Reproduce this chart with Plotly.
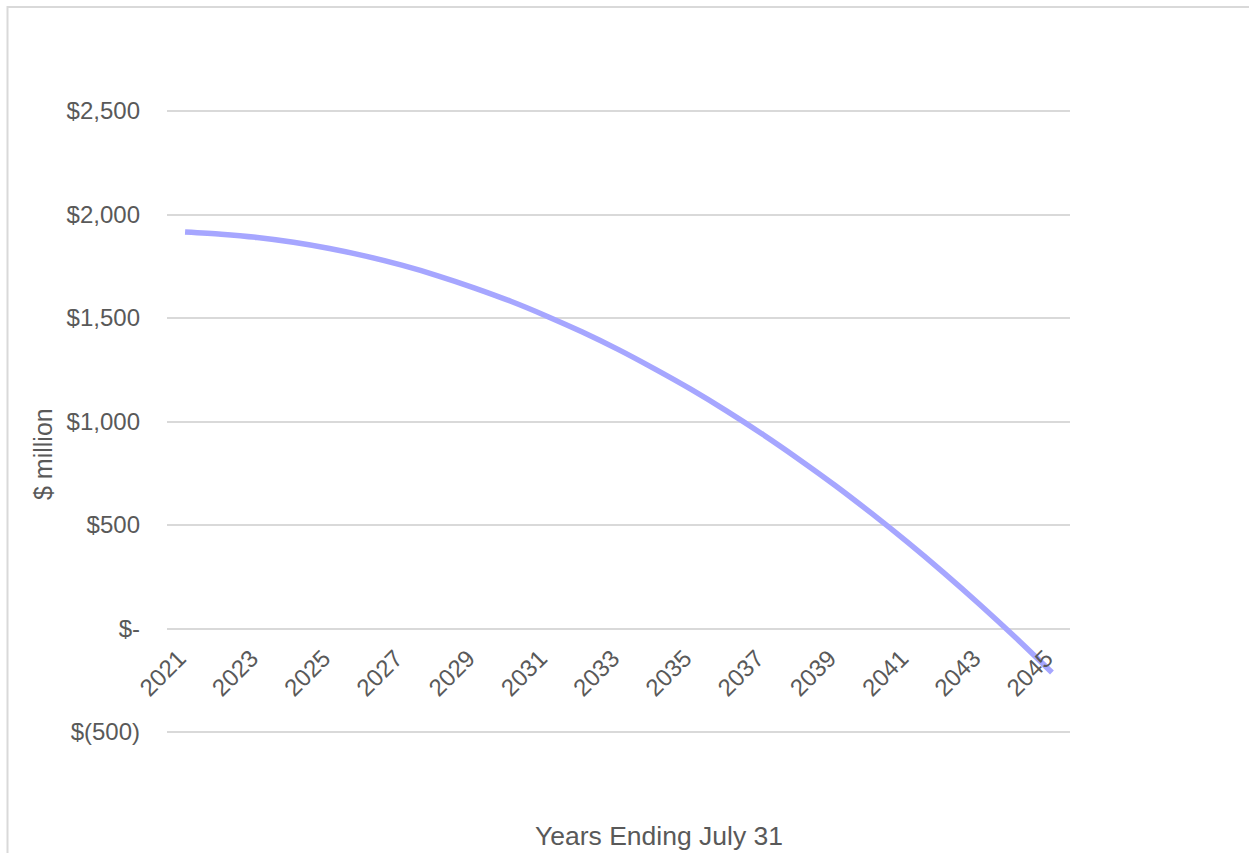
import plotly.graph_objects as go

# Projected balance by fiscal year ($ million)
years = [str(y) for y in range(2021, 2046)]
balance = [1916, 1905, 1889, 1866, 1836, 1799, 1755, 1704, 1646, 1582,
           1510, 1432, 1347, 1254, 1156, 1050, 937, 817, 691, 557,
           417, 270, 116, -45, -213]

x_tick_years = [str(y) for y in range(2021, 2046, 2)]
y_tick_vals = [-500, 0, 500, 1000, 1500, 2000, 2500]
y_tick_text = ["$(500)", "$-", "$500", "$1,000", "$1,500", "$2,000", "$2,500"]

W, H = 1249, 853
# plot area padded by a few px so the end gridlines are drawn
PAD = 3
L, R, T, B = 167, 179, 111 - PAD, 121 - PAD
pw, ph = W - L - R, H - T - B
units_per_px = 3000 / (621)
y_min, y_max = -500 - PAD * units_per_px, 2500 + PAD * units_per_px

text_color = "#595959"
grid_color = "#d9d9d9"
font_family = "Liberation Sans, Arial, sans-serif"


def px_to_paper_x(px):
    return (px - L) / pw


def px_to_paper_y(py):
    return (H - B - py) / ph


fig = go.Figure()
fig.add_trace(go.Scatter(
    x=years, y=balance, mode="lines",
    line=dict(color="#a6a6ff", width=5.5, shape="spline", smoothing=0.8),
    hoverinfo="x+y", showlegend=False,
))

zero_pos = (0 - y_min) / (y_max - y_min)

fig.update_layout(
    width=W, height=H,
    margin=dict(l=L, r=R, t=T, b=B, pad=0),
    paper_bgcolor="white", plot_bgcolor="white",
    font=dict(family=font_family, color=text_color, size=24),
    xaxis=dict(
        type="category", tickmode="array", tickvals=x_tick_years,
        ticktext=x_tick_years, tickangle=-45, showgrid=False,
        showline=False, zeroline=False, ticks="",
        anchor="free", position=zero_pos, ticklabelstandoff=10,
        ticklabelshift=-6,
        range=[-0.5, len(years) - 0.5],
        tickfont=dict(size=24, color=text_color),
    ),
    yaxis=dict(
        range=[y_min, y_max], tickmode="array", tickvals=y_tick_vals,
        ticktext=y_tick_text, showgrid=True, gridcolor=grid_color,
        gridwidth=2, zeroline=False, showline=False, ticks="",
        ticklabelstandoff=26, tickfont=dict(size=24, color=text_color),
    ),
    shapes=[dict(
        type="rect", xref="paper", yref="paper",
        x0=px_to_paper_x(7.5), x1=px_to_paper_x(W + 20),
        y0=px_to_paper_y(H + 20), y1=px_to_paper_y(7),
        line=dict(color=grid_color, width=2), layer="below",
    )],
    annotations=[
        dict(text="$ million", xref="paper", yref="paper",
             x=px_to_paper_x(43), y=px_to_paper_y(454), textangle=-90,
             showarrow=False, xanchor="center", yanchor="middle",
             font=dict(size=25, color=text_color)),
        dict(text="Years Ending July 31", xref="paper", yref="paper",
             x=px_to_paper_x(659), y=px_to_paper_y(836),
             showarrow=False, xanchor="center", yanchor="middle",
             font=dict(size=26.5, color=text_color)),
    ],
)

fig.write_html("out.html")
